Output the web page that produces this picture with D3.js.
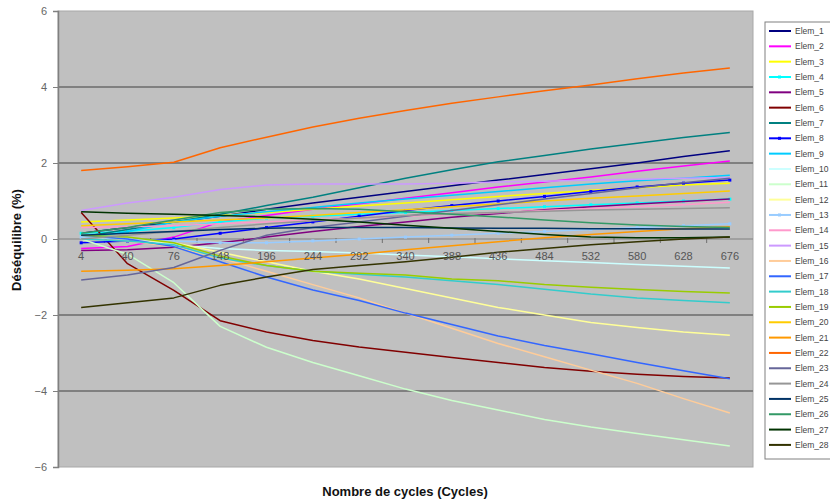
<!DOCTYPE html>
<html><head><meta charset="utf-8">
<script src="https://cdn.jsdelivr.net/npm/d3@7/dist/d3.min.js"></script>
<style>body{margin:0;background:#fff}svg{display:block;font-family:Arial,"Liberation Sans",sans-serif}</style>
</head><body><svg id="c" width="830" height="502"></svg>
<script>
const categories = ["4","40","76","148","196","244","292","340","388","436","484","532","580","628","676"];
const seriesNames = ["Elem_1","Elem_2","Elem_3","Elem_4","Elem_5","Elem_6","Elem_7","Elem_8","Elem_9","Elem_10","Elem_11","Elem_12","Elem_13","Elem_14","Elem_15","Elem_16","Elem_17","Elem_18","Elem_19","Elem_20","Elem_21","Elem_22","Elem_23","Elem_24","Elem_25","Elem_26","Elem_27","Elem_28"];
const colors = ["#000080","#FF00FF","#FFFF00","#00FFFF","#800080","#800000","#008080","#0000FF","#00CCFF","#CCFFFF","#CCFFCC","#FFFF99","#99CCFF","#FF99CC","#CC99FF","#FFCC99","#3366FF","#33CCCC","#99CC00","#FFCC00","#FF9900","#FF6600","#666699","#969696","#003366","#339966","#003300","#333300"];
const withMarker = ["Elem_4","Elem_8","Elem_13"];

const elem1  = [0.15,0.3,0.45,0.6,0.78,0.95,1.1,1.25,1.4,1.55,1.7,1.85,2.0,2.17,2.32];
const elem2  = [-0.25,-0.2,0.05,0.45,0.62,0.78,0.93,1.07,1.22,1.37,1.5,1.63,1.78,1.92,2.05];
const elem3  = [0.45,0.5,0.55,0.62,0.7,0.78,0.87,0.95,1.03,1.12,1.2,1.28,1.35,1.42,1.47];
const elem4  = [0.15,0.2,0.3,0.45,0.55,0.6,0.65,0.7,0.75,0.8,0.85,0.9,0.95,1.0,1.05];
const elem5  = [-0.3,-0.28,-0.22,-0.1,0.05,0.2,0.33,0.45,0.57,0.67,0.77,0.85,0.92,0.99,1.05];
const elem6  = [0.7,-0.65,-1.35,-2.15,-2.45,-2.67,-2.84,-2.98,-3.12,-3.25,-3.38,-3.48,-3.56,-3.62,-3.66];
const elem7  = [0.05,0.25,0.45,0.65,0.88,1.1,1.35,1.6,1.82,2.03,2.2,2.37,2.52,2.67,2.8];
const elem8  = [-0.1,-0.05,0.0,0.15,0.3,0.45,0.6,0.75,0.88,1.0,1.12,1.25,1.37,1.47,1.55];
const elem9  = [0.0,0.2,0.45,0.6,0.72,0.83,0.95,1.05,1.15,1.25,1.35,1.45,1.53,1.6,1.68];
const elem10 = [0.1,0.0,-0.15,-0.25,-0.3,-0.33,-0.37,-0.42,-0.47,-0.52,-0.57,-0.62,-0.67,-0.72,-0.76];
const elem11 = [0.0,-0.4,-1.15,-2.3,-2.85,-3.25,-3.6,-3.95,-4.25,-4.5,-4.75,-4.95,-5.12,-5.28,-5.45];
const elem12 = [0.05,0.0,-0.1,-0.35,-0.6,-0.85,-1.05,-1.3,-1.55,-1.8,-2.0,-2.2,-2.33,-2.45,-2.53];
const elem13 = [0.05,0.0,-0.05,-0.1,-0.1,-0.05,0.0,0.05,0.1,0.15,0.2,0.25,0.3,0.35,0.4];
const elem14 = [0.3,0.32,0.35,0.4,0.45,0.5,0.55,0.6,0.65,0.7,0.75,0.8,0.85,0.9,0.97];
const elem15 = [0.75,0.95,1.1,1.3,1.42,1.45,1.45,1.45,1.47,1.5,1.52,1.55,1.57,1.6,1.62];
const elem16 = [0.0,-0.05,-0.2,-0.5,-0.85,-1.2,-1.55,-1.95,-2.35,-2.75,-3.1,-3.45,-3.8,-4.2,-4.58];
const elem17 = [0.1,0.0,-0.2,-0.6,-1.0,-1.34,-1.62,-1.95,-2.25,-2.55,-2.8,-3.02,-3.25,-3.47,-3.68];
const elem18 = [0.0,-0.05,-0.15,-0.5,-0.7,-0.85,-0.93,-1.0,-1.1,-1.2,-1.32,-1.45,-1.55,-1.62,-1.68];
const elem19 = [0.1,0.05,-0.1,-0.45,-0.7,-0.85,-0.9,-0.95,-1.05,-1.1,-1.2,-1.27,-1.33,-1.38,-1.42];
const elem20 = [0.35,0.4,0.45,0.5,0.55,0.62,0.7,0.77,0.85,0.92,1.0,1.07,1.13,1.2,1.26];
const elem21 = [-0.85,-0.82,-0.78,-0.7,-0.6,-0.5,-0.4,-0.28,-0.18,-0.07,0.03,0.12,0.2,0.27,0.32];
const elem22 = [1.8,1.9,2.02,2.4,2.68,2.95,3.18,3.38,3.57,3.74,3.9,4.05,4.22,4.37,4.5];
const elem23 = [-1.08,-0.95,-0.75,-0.3,0.1,0.3,0.45,0.6,0.75,0.9,1.05,1.2,1.35,1.48,1.6];
const elem24 = [0.0,0.1,0.2,0.3,0.4,0.48,0.55,0.62,0.67,0.7,0.73,0.76,0.78,0.8,0.82];
const elem25 = [0.1,0.15,0.2,0.25,0.28,0.3,0.3,0.3,0.29,0.28,0.28,0.27,0.27,0.26,0.26];
const elem26 = [0.15,0.3,0.5,0.7,0.78,0.8,0.78,0.72,0.65,0.58,0.5,0.43,0.37,0.33,0.3];
const elem27 = [0.72,0.68,0.65,0.62,0.58,0.52,0.45,0.36,0.28,0.2,0.12,0.05,0.03,0.03,0.05];
const elem28 = [-1.8,-1.68,-1.55,-1.22,-1.0,-0.8,-0.7,-0.6,-0.48,-0.35,-0.25,-0.15,-0.07,0.0,0.05];
const yTicks = [-6,-4,-2,0,2,4,6];
const yTitle = "Déséquilibre (%)";
const xTitle = "Nombre de cycles (Cycles)";

const allValues = [elem1,elem2,elem3,elem4,elem5,elem6,elem7,elem8,elem9,elem10,elem11,elem12,elem13,elem14,elem15,elem16,elem17,elem18,elem19,elem20,elem21,elem22,elem23,elem24,elem25,elem26,elem27,elem28];
const series = seriesNames.map((n,i)=>({name:n,color:colors[i],values:allValues[i]}));

const svg = d3.select("#c");
const L=58, R=753, T=11, B=467;
const x = d3.scaleBand().domain(categories).range([L,R]).padding(0);
const y = d3.scaleLinear().domain([-6,6]).range([B,T]);

// plot area
svg.append("rect").attr("x",L).attr("y",T).attr("width",R-L).attr("height",B-T)
  .attr("fill","#c0c0c0").attr("stroke","#a8a8a8").attr("stroke-width",1);

// gridlines
svg.append("g").selectAll("line").data(yTicks.filter(v=>v!==0 && Math.abs(v)<6)).join("line")
  .attr("x1",L).attr("x2",R).attr("y1",d=>y(d)).attr("y2",d=>y(d))
  .attr("stroke","#808080").attr("stroke-width",2);

// y axis
const ya = svg.append("g").attr("transform",`translate(${L},0)`)
  .call(d3.axisLeft(y).tickValues(yTicks).tickSize(5).tickPadding(6).tickFormat(d3.format("d")));
ya.select(".domain").attr("stroke","#808080").attr("stroke-width",1.5);
ya.selectAll(".tick line").attr("stroke","#808080");
ya.selectAll("text").attr("font-size",11).attr("fill","#666").attr("font-family","Arial, Liberation Sans, sans-serif");

// x axis at y=0
const y0 = y(0);
svg.append("line").attr("x1",L).attr("x2",R).attr("y1",y0).attr("y2",y0).attr("stroke","#808080").attr("stroke-width",1);
svg.append("g").selectAll("line").data(categories.slice(1)).join("line")
  .attr("x1",d=>x(d)).attr("x2",d=>x(d)).attr("y1",y0-1).attr("y2",y0+4)
  .attr("stroke","#707070").attr("stroke-width",1);

// lines
const line = d3.line().x((d,i)=>x(categories[i])+x.bandwidth()/2).y(d=>y(d));
const lg = svg.append("g");
series.forEach(s=>{
  lg.append("path").datum(s.values).attr("d",line).attr("fill","none")
    .attr("stroke",s.color).attr("stroke-width",1.5).attr("stroke-linejoin","round");
  if(withMarker.includes(s.name)){
    lg.append("g").selectAll("rect").data(s.values).join("rect")
      .attr("x",(d,i)=>x(categories[i])+x.bandwidth()/2-1.5).attr("y",d=>y(d)-1.5)
      .attr("width",3).attr("height",3).attr("fill",s.color);
  }
});

// x labels (drawn above lines like Excel)
svg.append("g").selectAll("text").data(categories).join("text")
  .attr("x",d=>x(d)+x.bandwidth()/2).attr("y",y0+21)
  .attr("text-anchor","middle").attr("font-size",11).attr("fill","#555").text(d=>d);

// titles
svg.append("text").attr("x",405).attr("y",496).attr("text-anchor","middle")
  .attr("font-size",13).attr("font-weight","bold").attr("fill","#111").text(xTitle);
svg.append("text").attr("transform","translate(21,240) rotate(-90)").attr("text-anchor","middle")
  .attr("font-size",13).attr("font-weight","bold").attr("fill","#111").text(yTitle);

// legend
const lgX=765, lgY=22, rowH=15.33;
svg.append("rect").attr("x",lgX).attr("y",lgY).attr("width",80).attr("height",437)
  .attr("fill","#fff").attr("stroke","#808080").attr("stroke-width",1);
const le = svg.append("g").selectAll("g").data(series).join("g")
  .attr("transform",(d,i)=>`translate(${lgX},${lgY+9+i*rowH})`);
le.append("line").attr("x1",4).attr("x2",26).attr("y1",0).attr("y2",0)
  .attr("stroke",d=>d.color).attr("stroke-width",2);
le.filter(d=>withMarker.includes(d.name)).append("rect").attr("x",13).attr("y",-1.5).attr("width",3).attr("height",3).attr("fill",d=>d.color);
le.append("text").attr("x",30).attr("y",3).attr("font-size",8.5).attr("fill","#444").text(d=>d.name);
</script></body></html>
